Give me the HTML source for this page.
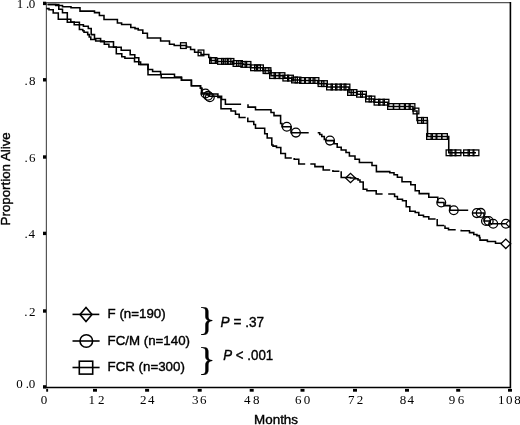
<!DOCTYPE html>
<html><head><meta charset="utf-8"><title>Survival</title>
<style>
html,body{margin:0;padding:0;background:#fff;}
body{width:520px;height:425px;overflow:hidden;}
svg{display:block;}
</style></head>
<body>
<svg width="520" height="425" viewBox="0 0 520 425">
<rect width="520" height="425" fill="#fff"/>
<line x1="46.4" y1="2.6" x2="46.4" y2="388" stroke="#555" stroke-width="1.2"/>
<line x1="46" y1="2.7" x2="510" y2="2.7" stroke="#555" stroke-width="1.2"/>
<line x1="510.4" y1="2" x2="510.4" y2="388.3" stroke="#000" stroke-width="1.6"/>
<line x1="45.5" y1="387.5" x2="511" y2="387.5" stroke="#000" stroke-width="1.7"/>
<rect x="43" y="1.70" width="3.2" height="3.4" fill="#000"/>
<rect x="43" y="78.10" width="3.2" height="3.4" fill="#000"/>
<rect x="43" y="155.30" width="3.2" height="3.4" fill="#000"/>
<rect x="43" y="231.70" width="3.2" height="3.4" fill="#000"/>
<rect x="43" y="309.30" width="3.2" height="3.4" fill="#000"/>
<rect x="43" y="385.20" width="3.2" height="3.4" fill="#000"/>
<rect x="46.2" y="388.8" width="1.9" height="2.9" fill="#000"/>
<rect x="93.00" y="388.9" width="4" height="2.8" fill="#000"/>
<rect x="145.10" y="388.9" width="4" height="2.8" fill="#000"/>
<rect x="197.70" y="388.9" width="4" height="2.8" fill="#000"/>
<rect x="249.70" y="388.9" width="4" height="2.8" fill="#000"/>
<rect x="300.50" y="388.9" width="4" height="2.8" fill="#000"/>
<rect x="353.00" y="388.9" width="4" height="2.8" fill="#000"/>
<rect x="405.00" y="388.9" width="4" height="2.8" fill="#000"/>
<rect x="456.20" y="388.9" width="4" height="2.8" fill="#000"/>
<rect x="508.00" y="388.9" width="4" height="2.8" fill="#000"/>
<path d="M46.30,8.60L49.00,8.60L49.00,9.80L53.20,9.80L53.20,12.90L58.30,12.90L58.30,19.20L70.80,19.20L70.80,22.00L74.20,22.00L74.20,24.80L79.40,24.80L79.40,29.40L82.80,29.40L82.80,30.70L84.00,30.70L84.00,32.20L87.70,32.20L87.70,34.60L89.20,34.60L89.20,37.00L90.80,37.00L90.80,39.50L95.70,39.50L95.70,41.00L104.30,41.00L104.30,44.20L108.90,44.20L108.90,47.00L116.30,47.00L116.30,53.70L121.80,53.70L121.80,56.80L124.90,56.80L124.90,58.20L134.50,58.20L134.50,61.80L138.80,61.80L138.80,64.40L148.00,64.40L148.00,74.80L161.20,74.80L161.20,77.70L181.50,77.70L181.50,80.30L191.40,80.30L191.40,85.80L200.50,85.80L200.50,88.30L201.50,88.30L201.50,94.00L217.90,94.00L217.90,97.50L221.00,97.50L221.00,108.75L231.00,108.75L231.00,111.00L235.50,111.00L235.50,114.30L239.20,114.30L239.20,117.50L245.70,117.50M247.80,117.50L247.80,121.40L253.75,121.40L253.75,124.40L255.50,124.40L255.50,128.20L264.70,128.20L264.70,133.80L267.20,133.80L267.20,138.00L271.80,138.00L271.80,145.00L273.00,145.00L273.00,146.10L276.50,146.10L276.50,147.40L280.80,147.40L280.80,153.40L285.40,153.40L285.40,158.00L291.80,158.00M294.20,158.00L294.20,159.20L298.80,159.20L298.80,164.00L305.20,164.00M310.30,164.00L314.90,164.00L314.90,166.60L323.20,166.60L323.20,169.90L330.20,169.90M332.90,169.90L332.90,171.20L339.40,171.20M341.20,171.20L341.20,177.40L350.50,177.40L350.50,178.00L355.50,178.00L355.50,178.75L358.00,178.75L358.00,180.00L360.00,180.00L360.00,182.00L363.20,182.00L363.20,189.30L366.90,189.30L366.90,190.80L376.20,190.80L376.20,194.00L382.60,194.00M388.20,194.00L394.60,194.00L394.60,196.50L397.40,196.50L397.40,199.30L402.50,199.30L402.50,200.80L406.20,200.80L406.20,206.80L409.80,206.80L409.80,211.20L415.20,211.20L415.20,212.40L418.80,212.40L418.80,215.20L423.50,215.20L423.50,216.80L428.80,216.80L428.80,218.90L435.60,218.90M437.20,218.90L437.20,225.40L444.20,225.40M445.00,225.40L445.00,228.20L448.50,228.20L448.50,229.80L455.70,229.80M461.20,229.80L461.20,230.70L469.50,230.70L469.50,232.60L473.75,232.60L473.75,234.40L476.90,234.40L476.90,235.60L479.40,235.60L479.40,237.50L480.00,237.50L480.00,240.10L487.40,240.10L487.40,241.50L495.50,241.50L495.50,243.30L501.50,243.30" fill="none" stroke="#000" stroke-width="1.55" stroke-linejoin="miter"/>
<path d="M47.60,4.40L58.80,4.40L58.80,9.20L62.50,9.20L62.50,12.80L67.30,12.80L67.30,22.30L79.40,22.30L79.40,24.80L83.40,24.80L83.40,26.30L88.30,26.30L88.30,28.50L91.20,28.50L91.20,34.60L94.50,34.60L94.50,38.50L100.60,38.50L100.60,41.70L113.50,41.70L113.50,47.20L121.20,47.20L121.20,50.30L130.20,50.30L130.20,54.80L134.80,54.80L134.80,57.80L138.80,57.80L138.80,62.00L140.60,62.00L140.60,64.40L148.00,64.40L148.00,69.50L152.60,69.50L152.60,71.40L160.60,71.40L160.60,74.20L174.50,74.20L174.50,77.00L181.50,77.00L181.50,80.30L191.40,80.30L191.40,85.80L200.50,85.80L200.50,88.30L202.00,88.30L202.00,93.00L207.00,93.00L207.00,95.00L209.00,95.00L209.00,96.25L221.60,96.25L221.60,99.40L225.40,99.40L225.40,104.30L241.10,104.30M248.00,104.30L248.00,107.10L255.50,107.10L255.50,109.80L271.00,109.80L271.00,112.50L274.00,112.50L274.00,115.60L280.60,115.60L280.60,123.50L282.00,123.50L282.00,126.70L291.00,126.70L291.00,132.80L308.70,132.80M317.70,132.80L319.70,132.80L319.70,134.40L321.80,134.40L321.80,136.50L324.30,136.50L324.30,139.40L326.00,139.40L326.00,140.60L334.00,140.60L334.00,143.75L337.20,143.75L337.20,147.20L341.20,147.20L341.20,150.00L346.00,150.00L346.00,152.40L349.40,152.40L349.40,156.00L355.00,156.00L355.00,159.20L359.40,159.20L359.40,162.40L372.00,162.40L372.00,165.40L376.40,165.40L376.40,171.60L389.80,171.60L389.80,172.80L394.00,172.80L394.00,174.80L397.40,174.80L397.40,177.20L402.00,177.20L402.00,181.80L410.80,181.80L410.80,184.80L415.20,184.80L415.20,190.80L419.20,190.80L419.20,193.60L428.80,193.60L428.80,197.20L437.80,197.20L437.80,202.50L444.00,202.50L444.00,205.60L450.00,205.60L450.00,210.30L468.20,210.30M472.30,213.00L484.00,213.00L484.00,221.00L490.00,221.00L490.00,223.70L505.90,223.70" fill="none" stroke="#000" stroke-width="1.55" stroke-linejoin="miter"/>
<path d="M47.60,4.40L55.70,4.40L55.70,5.50L62.50,5.50L62.50,6.70L71.00,6.70L71.00,7.70L80.00,7.70L80.00,11.10L94.50,11.10L94.50,12.60L99.40,12.60L99.40,15.40L104.00,15.40L104.00,19.50L117.40,19.50L117.40,22.90L121.60,22.90L121.60,24.50L130.80,24.50L130.80,27.50L135.00,27.50L135.00,28.60L138.20,28.60L138.20,29.90L142.80,29.90L142.80,33.30L147.40,33.30L147.40,37.90L160.60,37.90L160.60,40.90L169.50,40.90L169.50,44.30L174.20,44.30L174.20,45.40L186.50,45.40L186.50,47.00L190.60,47.00L190.60,49.50L194.60,49.50L194.60,52.30L201.00,52.30L201.00,54.50L208.80,54.50L208.80,57.50L210.50,57.50L210.50,60.50L216.80,60.50L216.80,61.40L232.50,61.40L232.50,63.50L243.00,63.50L243.00,64.40L250.50,64.40L250.50,67.80L263.00,67.80L263.00,70.60L271.00,70.60L271.00,75.60L284.00,75.60L284.00,78.10L292.00,78.10L292.00,80.00L300.00,80.00L300.00,80.50L318.00,80.50L318.00,83.60L327.00,83.60L327.00,87.00L349.00,87.00L349.00,92.50L357.00,92.50L357.00,94.25L366.00,94.25L366.00,99.00L374.00,99.00L374.00,102.20L388.00,102.20L388.00,106.50L413.00,106.50L413.00,111.00L417.00,111.00L417.00,120.40L427.50,120.40L427.50,136.50L448.75,136.50L448.75,152.80L476.00,152.80" fill="none" stroke="#000" stroke-width="1.55" stroke-linejoin="miter"/>
<rect x="180.55" y="42.75" width="5.70" height="5.70" fill="none" stroke="#000" stroke-width="1.3"/>
<rect x="198.15" y="50.05" width="5.70" height="5.70" fill="none" stroke="#000" stroke-width="1.3"/>
<rect x="209.65" y="57.65" width="5.70" height="5.70" fill="none" stroke="#000" stroke-width="1.3"/>
<rect x="211.15" y="57.65" width="5.70" height="5.70" fill="none" stroke="#000" stroke-width="1.3"/>
<rect x="217.65" y="58.55" width="5.70" height="5.70" fill="none" stroke="#000" stroke-width="1.3"/>
<rect x="221.65" y="58.55" width="5.70" height="5.70" fill="none" stroke="#000" stroke-width="1.3"/>
<rect x="225.15" y="58.55" width="5.70" height="5.70" fill="none" stroke="#000" stroke-width="1.3"/>
<rect x="228.15" y="58.55" width="5.70" height="5.70" fill="none" stroke="#000" stroke-width="1.3"/>
<rect x="233.15" y="60.65" width="5.70" height="5.70" fill="none" stroke="#000" stroke-width="1.3"/>
<rect x="236.65" y="60.65" width="5.70" height="5.70" fill="none" stroke="#000" stroke-width="1.3"/>
<rect x="240.90" y="61.55" width="5.70" height="5.70" fill="none" stroke="#000" stroke-width="1.3"/>
<rect x="245.15" y="61.55" width="5.70" height="5.70" fill="none" stroke="#000" stroke-width="1.3"/>
<rect x="250.65" y="64.95" width="5.70" height="5.70" fill="none" stroke="#000" stroke-width="1.3"/>
<rect x="254.65" y="64.95" width="5.70" height="5.70" fill="none" stroke="#000" stroke-width="1.3"/>
<rect x="257.65" y="64.95" width="5.70" height="5.70" fill="none" stroke="#000" stroke-width="1.3"/>
<rect x="263.15" y="67.75" width="5.70" height="5.70" fill="none" stroke="#000" stroke-width="1.3"/>
<rect x="265.15" y="67.75" width="5.70" height="5.70" fill="none" stroke="#000" stroke-width="1.3"/>
<rect x="269.65" y="72.75" width="5.70" height="5.70" fill="none" stroke="#000" stroke-width="1.3"/>
<rect x="274.15" y="72.75" width="5.70" height="5.70" fill="none" stroke="#000" stroke-width="1.3"/>
<rect x="279.15" y="72.75" width="5.70" height="5.70" fill="none" stroke="#000" stroke-width="1.3"/>
<rect x="282.95" y="75.25" width="5.70" height="5.70" fill="none" stroke="#000" stroke-width="1.3"/>
<rect x="287.65" y="75.25" width="5.70" height="5.70" fill="none" stroke="#000" stroke-width="1.3"/>
<rect x="291.65" y="77.15" width="5.70" height="5.70" fill="none" stroke="#000" stroke-width="1.3"/>
<rect x="295.15" y="77.15" width="5.70" height="5.70" fill="none" stroke="#000" stroke-width="1.3"/>
<rect x="299.65" y="77.65" width="5.70" height="5.70" fill="none" stroke="#000" stroke-width="1.3"/>
<rect x="304.65" y="77.65" width="5.70" height="5.70" fill="none" stroke="#000" stroke-width="1.3"/>
<rect x="309.15" y="77.65" width="5.70" height="5.70" fill="none" stroke="#000" stroke-width="1.3"/>
<rect x="313.15" y="77.65" width="5.70" height="5.70" fill="none" stroke="#000" stroke-width="1.3"/>
<rect x="318.15" y="80.75" width="5.70" height="5.70" fill="none" stroke="#000" stroke-width="1.3"/>
<rect x="321.65" y="80.75" width="5.70" height="5.70" fill="none" stroke="#000" stroke-width="1.3"/>
<rect x="326.65" y="84.15" width="5.70" height="5.70" fill="none" stroke="#000" stroke-width="1.3"/>
<rect x="331.15" y="84.15" width="5.70" height="5.70" fill="none" stroke="#000" stroke-width="1.3"/>
<rect x="335.65" y="84.15" width="5.70" height="5.70" fill="none" stroke="#000" stroke-width="1.3"/>
<rect x="340.15" y="84.15" width="5.70" height="5.70" fill="none" stroke="#000" stroke-width="1.3"/>
<rect x="344.15" y="84.15" width="5.70" height="5.70" fill="none" stroke="#000" stroke-width="1.3"/>
<rect x="347.65" y="89.65" width="5.70" height="5.70" fill="none" stroke="#000" stroke-width="1.3"/>
<rect x="351.15" y="89.65" width="5.70" height="5.70" fill="none" stroke="#000" stroke-width="1.3"/>
<rect x="356.65" y="91.40" width="5.70" height="5.70" fill="none" stroke="#000" stroke-width="1.3"/>
<rect x="360.65" y="91.40" width="5.70" height="5.70" fill="none" stroke="#000" stroke-width="1.3"/>
<rect x="365.65" y="96.15" width="5.70" height="5.70" fill="none" stroke="#000" stroke-width="1.3"/>
<rect x="369.15" y="96.15" width="5.70" height="5.70" fill="none" stroke="#000" stroke-width="1.3"/>
<rect x="374.15" y="99.35" width="5.70" height="5.70" fill="none" stroke="#000" stroke-width="1.3"/>
<rect x="378.65" y="99.35" width="5.70" height="5.70" fill="none" stroke="#000" stroke-width="1.3"/>
<rect x="383.15" y="99.35" width="5.70" height="5.70" fill="none" stroke="#000" stroke-width="1.3"/>
<rect x="387.65" y="103.65" width="5.70" height="5.70" fill="none" stroke="#000" stroke-width="1.3"/>
<rect x="393.65" y="103.65" width="5.70" height="5.70" fill="none" stroke="#000" stroke-width="1.3"/>
<rect x="399.65" y="103.65" width="5.70" height="5.70" fill="none" stroke="#000" stroke-width="1.3"/>
<rect x="404.45" y="103.65" width="5.70" height="5.70" fill="none" stroke="#000" stroke-width="1.3"/>
<rect x="409.15" y="103.65" width="5.70" height="5.70" fill="none" stroke="#000" stroke-width="1.3"/>
<rect x="413.15" y="108.15" width="5.70" height="5.70" fill="none" stroke="#000" stroke-width="1.3"/>
<rect x="417.65" y="117.55" width="5.70" height="5.70" fill="none" stroke="#000" stroke-width="1.3"/>
<rect x="421.65" y="117.55" width="5.70" height="5.70" fill="none" stroke="#000" stroke-width="1.3"/>
<rect x="426.65" y="133.65" width="5.70" height="5.70" fill="none" stroke="#000" stroke-width="1.3"/>
<rect x="431.15" y="133.65" width="5.70" height="5.70" fill="none" stroke="#000" stroke-width="1.3"/>
<rect x="436.15" y="133.65" width="5.70" height="5.70" fill="none" stroke="#000" stroke-width="1.3"/>
<rect x="441.65" y="133.65" width="5.70" height="5.70" fill="none" stroke="#000" stroke-width="1.3"/>
<rect x="446.15" y="149.95" width="5.70" height="5.70" fill="none" stroke="#000" stroke-width="1.3"/>
<rect x="450.15" y="149.95" width="5.70" height="5.70" fill="none" stroke="#000" stroke-width="1.3"/>
<rect x="455.15" y="149.95" width="5.70" height="5.70" fill="none" stroke="#000" stroke-width="1.3"/>
<rect x="463.65" y="149.95" width="5.70" height="5.70" fill="none" stroke="#000" stroke-width="1.3"/>
<rect x="468.15" y="149.95" width="5.70" height="5.70" fill="none" stroke="#000" stroke-width="1.3"/>
<rect x="473.15" y="149.95" width="5.70" height="5.70" fill="none" stroke="#000" stroke-width="1.3"/>
<circle cx="205.50" cy="93.50" r="4.4" fill="none" stroke="#000" stroke-width="1.3"/>
<circle cx="208.00" cy="95.80" r="4.4" fill="none" stroke="#000" stroke-width="1.3"/>
<circle cx="209.80" cy="97.30" r="4.4" fill="none" stroke="#000" stroke-width="1.3"/>
<circle cx="286.80" cy="126.70" r="4.4" fill="none" stroke="#000" stroke-width="1.3"/>
<circle cx="295.90" cy="132.60" r="4.4" fill="none" stroke="#000" stroke-width="1.3"/>
<circle cx="330.00" cy="140.60" r="4.4" fill="none" stroke="#000" stroke-width="1.3"/>
<circle cx="441.25" cy="202.50" r="4.4" fill="none" stroke="#000" stroke-width="1.3"/>
<circle cx="453.75" cy="210.20" r="4.4" fill="none" stroke="#000" stroke-width="1.3"/>
<circle cx="476.80" cy="213.10" r="4.4" fill="none" stroke="#000" stroke-width="1.3"/>
<circle cx="480.70" cy="212.90" r="4.4" fill="none" stroke="#000" stroke-width="1.3"/>
<circle cx="486.00" cy="221.00" r="4.4" fill="none" stroke="#000" stroke-width="1.3"/>
<circle cx="488.70" cy="221.00" r="4.4" fill="none" stroke="#000" stroke-width="1.3"/>
<circle cx="493.20" cy="223.70" r="4.4" fill="none" stroke="#000" stroke-width="1.3"/>
<circle cx="505.90" cy="223.70" r="4.4" fill="none" stroke="#000" stroke-width="1.3"/>
<polygon points="345.60,178.00 350.50,173.30 355.40,178.00 350.50,182.70" fill="none" stroke="#000" stroke-width="1.3"/>
<polygon points="500.90,243.80 505.80,239.10 510.70,243.80 505.80,248.50" fill="none" stroke="#000" stroke-width="1.3"/>
<path d="M505.9,223.7L509.6,219.9M505.9,223.7L509.6,227.5" fill="none" stroke="#000" stroke-width="1.1"/>
<text font-family="'Liberation Serif','Times New Roman',serif" font-size="13.0" x="16.82 25.88 28.65" y="8.3" fill="#000">1.0</text>
<text font-family="'Liberation Serif','Times New Roman',serif" font-size="13.0" x="24.43 29.00" y="84.5" fill="#000">.8</text>
<text font-family="'Liberation Serif','Times New Roman',serif" font-size="13.0" x="24.57 28.92" y="162.4" fill="#000">.6</text>
<text font-family="'Liberation Serif','Times New Roman',serif" font-size="13.0" x="24.52 28.57" y="238.0" fill="#000">.4</text>
<text font-family="'Liberation Serif','Times New Roman',serif" font-size="13.0" x="24.32 28.92" y="315.6" fill="#000">.2</text>
<text font-family="'Liberation Serif','Times New Roman',serif" font-size="13.0" x="16.35 25.68 28.65" y="387.6" fill="#000">0.0</text>
<text font-family="'Liberation Serif','Times New Roman',serif" font-size="13.0" x="40.80" y="404.0" fill="#000">0</text>
<text font-family="'Liberation Serif','Times New Roman',serif" font-size="13.0" x="88.52 97.97" y="404.0" fill="#000">12</text>
<text font-family="'Liberation Serif','Times New Roman',serif" font-size="13.0" x="140.07 148.12" y="404.0" fill="#000">24</text>
<text font-family="'Liberation Serif','Times New Roman',serif" font-size="13.0" x="192.09 200.12" y="404.0" fill="#000">36</text>
<text font-family="'Liberation Serif','Times New Roman',serif" font-size="13.0" x="244.02 252.90" y="404.0" fill="#000">48</text>
<text font-family="'Liberation Serif','Times New Roman',serif" font-size="13.0" x="295.12 303.65" y="404.0" fill="#000">60</text>
<text font-family="'Liberation Serif','Times New Roman',serif" font-size="13.0" x="348.06 356.67" y="404.0" fill="#000">72</text>
<text font-family="'Liberation Serif','Times New Roman',serif" font-size="13.0" x="399.65 407.47" y="404.0" fill="#000">84</text>
<text font-family="'Liberation Serif','Times New Roman',serif" font-size="13.0" x="448.76 457.67" y="404.0" fill="#000">96</text>
<text font-family="'Liberation Serif','Times New Roman',serif" font-size="13.0" x="498.07 506.00 514.35" y="404.0" fill="#000">108</text>
<text font-family="'Liberation Sans',Arial,sans-serif" stroke="#000" stroke-width="0.4" font-size="13.4" x="254.1" y="424.2" fill="#000">Months</text>
<text font-family="'Liberation Sans',Arial,sans-serif" stroke="#000" stroke-width="0.4" font-size="13.3" transform="translate(9.6,225.4) rotate(-90)" x="0" y="0" fill="#000">Proportion Alive</text>
<line x1="72.5" y1="314.4" x2="99.3" y2="314.4" stroke="#000" stroke-width="1.6"/>
<polygon points="80.00,314.50 86.00,307.50 92.00,314.50 86.00,321.50" fill="none" stroke="#000" stroke-width="1.6"/>
<line x1="72.5" y1="341" x2="99.6" y2="341" stroke="#000" stroke-width="1.6"/>
<circle cx="86.30" cy="341.00" r="6.3" fill="none" stroke="#000" stroke-width="1.6"/>
<line x1="72.5" y1="367.5" x2="99.6" y2="367.5" stroke="#000" stroke-width="1.6"/>
<rect x="79.3" y="361.2" width="13.4" height="12.9" fill="none" stroke="#000" stroke-width="1.6"/>
<text font-family="'Liberation Sans',Arial,sans-serif" stroke="#000" stroke-width="0.4" font-size="13.3" x="107.6" y="317.9" fill="#000">F (n=190)</text>
<text font-family="'Liberation Sans',Arial,sans-serif" stroke="#000" stroke-width="0.4" font-size="13.3" x="107.6" y="344.8" fill="#000">FC/M (n=140)</text>
<text font-family="'Liberation Sans',Arial,sans-serif" stroke="#000" stroke-width="0.4" font-size="13.3" x="107.6" y="370.8" fill="#000">FCR (n=300)</text>
<text font-family="'Liberation Serif','Times New Roman',serif" stroke="#000" stroke-width="0.3" font-size="33" transform="translate(197.9,330.3) scale(1.1,1)" fill="#000">}</text>
<text font-family="'Liberation Serif','Times New Roman',serif" stroke="#000" stroke-width="0.3" font-size="33" transform="translate(197.9,369.9) scale(1.1,1)" fill="#000">}</text>
<text font-family="'Liberation Sans',Arial,sans-serif" stroke="#000" stroke-width="0.4" font-size="14.3" transform="translate(220.6,326.5) scale(0.95,1)" fill="#000"><tspan font-style="italic">P</tspan> = .37</text>
<text font-family="'Liberation Sans',Arial,sans-serif" stroke="#000" stroke-width="0.4" font-size="14" transform="translate(223.3,359.9) scale(0.95,1)" fill="#000"><tspan font-style="italic">P</tspan> &lt; .001</text>
</svg>
</body></html>
